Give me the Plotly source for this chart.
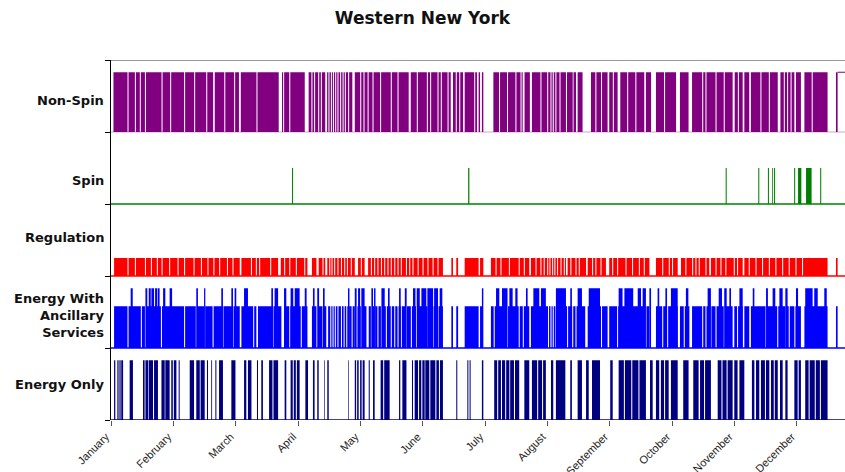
import plotly.graph_objects as go

# ---------------- data (x in day-of-year units) ----------------
categories = ["Non-Spin", "Spin", "Regulation",
              "Energy With<br>Ancillary<br>Services", "Energy Only"]
month_labels = ["January", "February", "March", "April", "May", "June",
                "July", "August", "September", "October", "November", "December"]

# bar heights (fraction of each strip)
nonspin_level = 0.83
spin_level = 0.50
reg_level = 0.25
ewa_level_low = 0.58
ewa_level_high = 0.83
eo_level = 0.83

nonspin_spans = [[1.2, 49.8], [50.6, 62.4], [63.3, 81.8], [83.4, 94.5], [96.4, 104.5],
                 [105.4, 117.7], [118.9, 145.2], [146.2, 165.7], [166.8, 171.7],
                 [172.5, 178.5], [179.3, 180.0], [180.9, 181.6], [186.5, 200.8],
                 [201.7, 204.3], [205.3, 221.9], [222.4, 225.2], [225.6, 226.8],
                 [227.6, 230.0], [234.1, 239.0], [239.5, 242.2], [243.0, 247.1],
                 [248.4, 260.1], [260.9, 263.4], [265.8, 275.6], [277.5, 281.7],
                 [283.4, 303.2], [304.2, 308.1], [308.9, 311.3], [312.1, 325.2],
                 [326.5, 333.3], [334.1, 336.5], [338.2, 349.5], [353.6, 354.4]]
nonspin_cuts = [8.3, 11.9, 14.3, 16.8, 24.9, 29.1, 35.9, 40.8, 46.7, 55.5, 60.3, 71.2,
                84.2, 87.2, 98.0, 99.3, 101.3, 102.6, 106.3, 107.5, 108.5, 109.6, 110.7,
                112.0, 113.2, 114.3, 115.9, 121.8, 123.4, 125.4, 127.8, 131.5, 136.7,
                140.0, 149.4, 154.3, 155.9, 159.5, 161.1, 164.4, 168.4, 170.1, 177.4,
                189.5, 193.4, 197.5, 200.0, 209.7, 213.0, 214.6, 215.7, 217.0, 219.0,
                236.5, 245.0, 252.0, 256.0, 270.0, 288.6, 290.2, 295.1, 299.1, 306.0,
                317.0, 321.1, 328.4, 330.0, 331.7, 342.0]

spin_spans = [[88.3, 88.8], [174.2, 174.8], [299.8, 300.3], [315.7, 316.2],
              [320.4, 320.9], [322.5, 322.9], [323.4, 323.9], [333.2, 333.7],
              [335.1, 336.7], [339.0, 341.7], [345.9, 346.4]]

reg_spans = [[1.5, 62.8], [63.6, 81.5], [82.8, 95.8], [98.0, 100.2], [101.3, 104.5],
             [105.5, 118.9], [120.5, 123.7], [125.4, 161.9], [166.0, 166.8],
             [168.4, 169.3], [172.5, 179.3], [180.0, 181.6], [185.3, 204.0],
             [204.8, 221.9], [222.7, 231.7], [232.5, 241.4], [243.0, 262.6],
             [265.8, 276.4], [278.0, 291.8], [292.6, 308.1], [308.9, 349.5],
             [353.6, 354.4]]
reg_cuts = [8.3, 11.9, 16.8, 19.7, 22.6, 24.9, 28.6, 32.7, 35.9, 40.5, 44.1, 47.3,
            50.2, 53.0, 56.8, 59.5, 68.5, 70.9, 72.5, 77.9, 84.7, 87.2, 90.4, 94.5,
            103.4, 106.7, 107.8, 109.1, 110.7, 112.4, 114.0, 115.3, 117.2, 122.1,
            127.0, 128.6, 130.2, 131.9, 133.5, 135.1, 136.7, 138.4, 140.0, 141.6,
            144.1, 145.7, 147.3, 149.8, 152.2, 154.6, 157.1, 159.5, 187.8, 190.2,
            194.3, 199.1, 201.6, 207.3, 209.7, 211.3, 213.0, 214.1, 215.4, 216.5,
            217.8, 219.5, 221.1, 224.3, 226.8, 228.4, 234.9, 236.5, 239.0, 244.7,
            247.1, 251.2, 254.4, 257.7, 260.1, 269.1, 272.3, 273.9, 280.4, 283.7,
            285.3, 286.9, 290.2, 295.1, 297.5, 299.9, 304.0, 305.6, 311.3, 314.6,
            317.8, 321.1, 324.3, 327.6, 330.8, 334.1, 337.3]

ewa_low_spans = [[1.5, 62.8], [63.6, 70.9], [71.7, 83.1], [84.4, 95.8], [98.0, 100.2],
                 [101.3, 105.0], [105.9, 118.9], [120.2, 124.6], [125.7, 161.9],
                 [166.0, 166.8], [168.4, 169.3], [172.5, 179.3], [180.0, 181.3],
                 [185.3, 204.0], [204.8, 231.3], [232.5, 239.0], [239.5, 242.2],
                 [243.0, 262.6], [265.8, 276.4], [277.5, 282.1], [283.4, 303.2],
                 [304.0, 308.1], [308.9, 311.3], [312.1, 333.3], [333.8, 336.5],
                 [338.2, 349.5], [353.6, 354.4]]
ewa_low_cuts = [8.3, 14.8, 16.8, 24.6, 29.4, 35.9, 41.6, 45.7, 49.8, 54.6, 59.5, 69.6,
                79.0, 87.2, 92.8, 103.4, 107.2, 108.3, 109.4, 110.7, 112.4, 113.7,
                115.0, 115.9, 117.6, 122.1, 127.0, 128.6, 130.2, 131.9, 134.3, 136.7,
                138.4, 140.0, 141.6, 144.1, 146.5, 149.0, 152.2, 154.6, 157.1, 159.5,
                186.9, 188.6, 193.4, 199.1, 201.1, 208.1, 210.5, 213.4, 214.6, 215.7,
                217.0, 218.3, 220.6, 222.7, 225.2, 226.8, 234.9, 247.1, 260.9, 269.1,
                271.5, 273.9, 279.6, 288.6, 290.2, 292.6, 295.1, 299.1, 305.6, 319.5,
                325.2, 329.2, 330.8]
ewa_high_spans = [[9.6, 10.6], [16.8, 17.7], [18.4, 19.4], [19.7, 21.0], [21.5, 22.6],
                  [22.9, 23.7], [25.4, 26.5], [28.6, 29.8], [41.6, 42.4], [45.4, 46.0],
                  [53.8, 54.6], [58.7, 59.5], [60.3, 61.1], [64.9, 66.8], [78.2, 79.0],
                  [79.8, 81.5], [84.4, 85.5], [87.6, 88.9], [89.6, 92.0], [94.5, 95.4],
                  [98.5, 99.3], [100.6, 101.5], [103.4, 104.2], [115.6, 116.3],
                  [118.9, 119.8], [120.5, 121.5], [122.1, 123.7], [127.0, 127.8],
                  [128.3, 129.0], [131.9, 133.5], [135.1, 135.9], [140.5, 141.3],
                  [143.3, 144.2], [147.3, 148.5], [149.1, 150.6], [151.4, 153.8],
                  [154.3, 157.1], [157.6, 159.5], [160.3, 161.6],
                  [180.9, 181.6], [187.8, 189.4], [190.7, 193.4], [194.3, 195.9],
                  [197.2, 198.3], [202.4, 203.2], [206.0, 208.9], [209.7, 212.1],
                  [217.0, 221.9], [224.0, 224.8], [227.6, 229.7], [233.0, 238.5],
                  [247.6, 249.5], [250.4, 254.7], [256.9, 258.5], [259.3, 260.9],
                  [262.6, 263.4], [266.6, 267.4], [270.4, 271.2], [273.1, 276.4],
                  [280.4, 281.6], [291.0, 292.6], [296.4, 298.0], [299.1, 300.3],
                  [301.6, 302.4], [306.5, 308.1], [313.0, 313.8], [319.5, 320.4],
                  [322.7, 324.0], [326.0, 327.6], [328.9, 330.0], [334.1, 335.1],
                  [338.6, 342.2], [343.0, 344.7], [347.9, 349.1]]

eo_spans = [[1.5, 2.1], [3.1, 3.7], [4.1, 4.7], [5.0, 5.9], [9.1, 10.7], [15.6, 16.4],
            [16.8, 18.1], [18.4, 20.5], [21.0, 22.9], [24.6, 26.2], [26.5, 28.6],
            [29.4, 31.9], [33.0, 33.5], [38.4, 40.5], [41.6, 43.3], [43.7, 45.7],
            [46.8, 47.3], [48.9, 49.3], [50.9, 51.4], [52.7, 54.6], [58.7, 60.7],
            [64.9, 66.0], [66.8, 68.5], [71.2, 71.7], [73.3, 74.1], [77.1, 81.5],
            [84.7, 85.5], [87.6, 92.0], [94.8, 96.1], [98.5, 99.3], [100.6, 101.3],
            [103.9, 104.2], [105.5, 106.2], [115.6, 115.9], [118.9, 120.8],
            [121.5, 123.7], [125.7, 126.2], [127.8, 128.6], [131.5, 135.9],
            [140.5, 141.1], [142.1, 144.1], [146.8, 147.3], [148.1, 153.0],
            [153.3, 158.2], [158.7, 161.9], [168.4, 168.9], [173.8, 174.3],
            [174.9, 175.4], [180.9, 181.6], [186.9, 190.2], [190.7, 194.3],
            [194.7, 199.1], [201.6, 204.0], [205.3, 212.1], [214.6, 215.7],
            [217.0, 221.6], [224.0, 224.8], [227.6, 229.7], [231.7, 233.0],
            [234.6, 238.5], [243.5, 244.7], [247.6, 260.9], [262.9, 264.2],
            [265.8, 267.4], [268.2, 272.0], [273.1, 276.4], [279.1, 281.7],
            [284.0, 286.6], [287.3, 292.6], [295.9, 303.2], [304.0, 305.6],
            [306.5, 308.9], [312.6, 313.8], [314.6, 316.2], [317.0, 321.1],
            [321.9, 325.2], [326.3, 327.6], [328.9, 330.0], [333.3, 334.9],
            [335.4, 336.5], [338.6, 349.5]]
eo_cuts = [30.4, 76.0, 79.0, 88.9, 90.4, 119.8, 122.5, 133.0, 150.0, 151.6, 155.5,
           160.2, 188.6, 192.5, 196.8, 208.1, 210.5, 250.4, 254.0, 257.5, 270.0,
           289.5, 298.0, 300.5, 319.2, 323.5, 340.5, 343.5, 346.0]

# ---------------- style ----------------
X_MAX = 358.0
DAYS_PER_MONTH = 365.0 / 12
CUT_W = 0.5
FONT = "DejaVu Sans, Arial, sans-serif"
TICK_FONT = "Liberation Sans, Arial, sans-serif"
PURPLE, GREEN, RED, BLUE, NAVY = "#800080", "#008000", "#FF0000", "#0000FF", "#000080"


def on_intervals(spans, cuts=(), w=CUT_W):
    out = []
    for a, b in spans:
        start = a
        for c in sorted(c for c in cuts if a < c < b):
            out.append((start, c - w / 2))
            start = c + w / 2
        out.append((start, b))
    return out


def step_poly(intervals, base, height):
    xs, ys = [0], [base]
    for a, b in intervals:
        xs += [a, a, b, b]
        ys += [base, base + height, base + height, base]
    xs.append(X_MAX)
    ys.append(base)
    return xs, ys


fig = go.Figure()


def add_fill(intervals, base, height, color):
    xs, ys = step_poly(intervals, base, height)
    fig.add_trace(go.Scatter(x=xs, y=ys, mode="lines", fill="toself",
                             fillcolor=color, line=dict(width=0, color=color),
                             hoverinfo="skip"))


def add_line(x0, x1, y, color, width=1.3, opacity=1.0):
    fig.add_trace(go.Scatter(x=[x0, x1], y=[y, y], mode="lines",
                             line=dict(color=color, width=width),
                             opacity=opacity, hoverinfo="skip"))


# bands: Energy Only 0-1, EWA 1-2, Regulation 2-3, Spin 3-4, Non-Spin 4-5
ns_int = on_intervals(nonspin_spans, nonspin_cuts)
add_fill(ns_int, 4, nonspin_level, PURPLE)
add_line(0, X_MAX, 4, PURPLE, 1, 0.35)
add_line(ns_int[-1][1], X_MAX, 4 + nonspin_level, PURPLE, 1)

add_fill(on_intervals(spin_spans), 3, spin_level, GREEN)
add_line(0, X_MAX, 3, GREEN, 1.3)

add_fill(on_intervals(reg_spans, reg_cuts), 2, reg_level, RED)
add_line(0, X_MAX, 2, RED, 1.3)

add_fill(on_intervals(ewa_low_spans, ewa_low_cuts), 1, ewa_level_low, BLUE)
add_fill(on_intervals(ewa_high_spans), 1, ewa_level_high, BLUE)
add_line(0, X_MAX, 1, BLUE, 1.3)

add_fill(on_intervals(eo_spans, eo_cuts), 0, eo_level, NAVY)
add_line(0, X_MAX, 0, NAVY, 1.5)

# category labels
label_y = [4.44, 3.32, 2.53, 1.45, 0.49]
for txt, yy in zip(categories, label_y):
    fig.add_annotation(x=0, xref="paper", xanchor="right", xshift=-5,
                       y=yy, yref="y", yanchor="middle", text="<b>%s</b>" % txt,
                       showarrow=False, align="right",
                       font=dict(family=FONT, size=13, color="#111"))

fig.add_shape(type="line", xref="paper", yref="y", x0=0, x1=1, y0=5, y1=5,
              line=dict(color="#333", width=1))

fig.update_layout(
    width=845, height=472,
    margin=dict(l=111, r=0, t=60, b=52, autoexpand=False),
    paper_bgcolor="white", plot_bgcolor="white",
    showlegend=False,
    title=dict(text="<b>Western New York</b>", x=0.5, xref="container",
               xanchor="center", y=0.962, yanchor="middle",
               font=dict(family=FONT, size=17, color="#111")),
    xaxis=dict(range=[0, X_MAX], tickmode="array", automargin=False,
               tickvals=[k * DAYS_PER_MONTH for k in range(12)],
               ticktext=month_labels, tickangle=-45, ticks="outside",
               ticklen=5, tickcolor="#555", showgrid=False, zeroline=False,
               showline=False, ticklabelshift=-5,
               tickfont=dict(family=TICK_FONT, size=11, color="#222")),
    yaxis=dict(range=[0, 5], tickmode="array", tickvals=[0, 1, 2, 3, 4, 5],
               automargin=False,
               ticks="outside", ticklen=5, tickcolor="#000",
               showticklabels=False, showline=True, linecolor="#000",
               linewidth=1, showgrid=False, zeroline=False),
)

fig.write_html("out.html", config={"displayModeBar": False})
